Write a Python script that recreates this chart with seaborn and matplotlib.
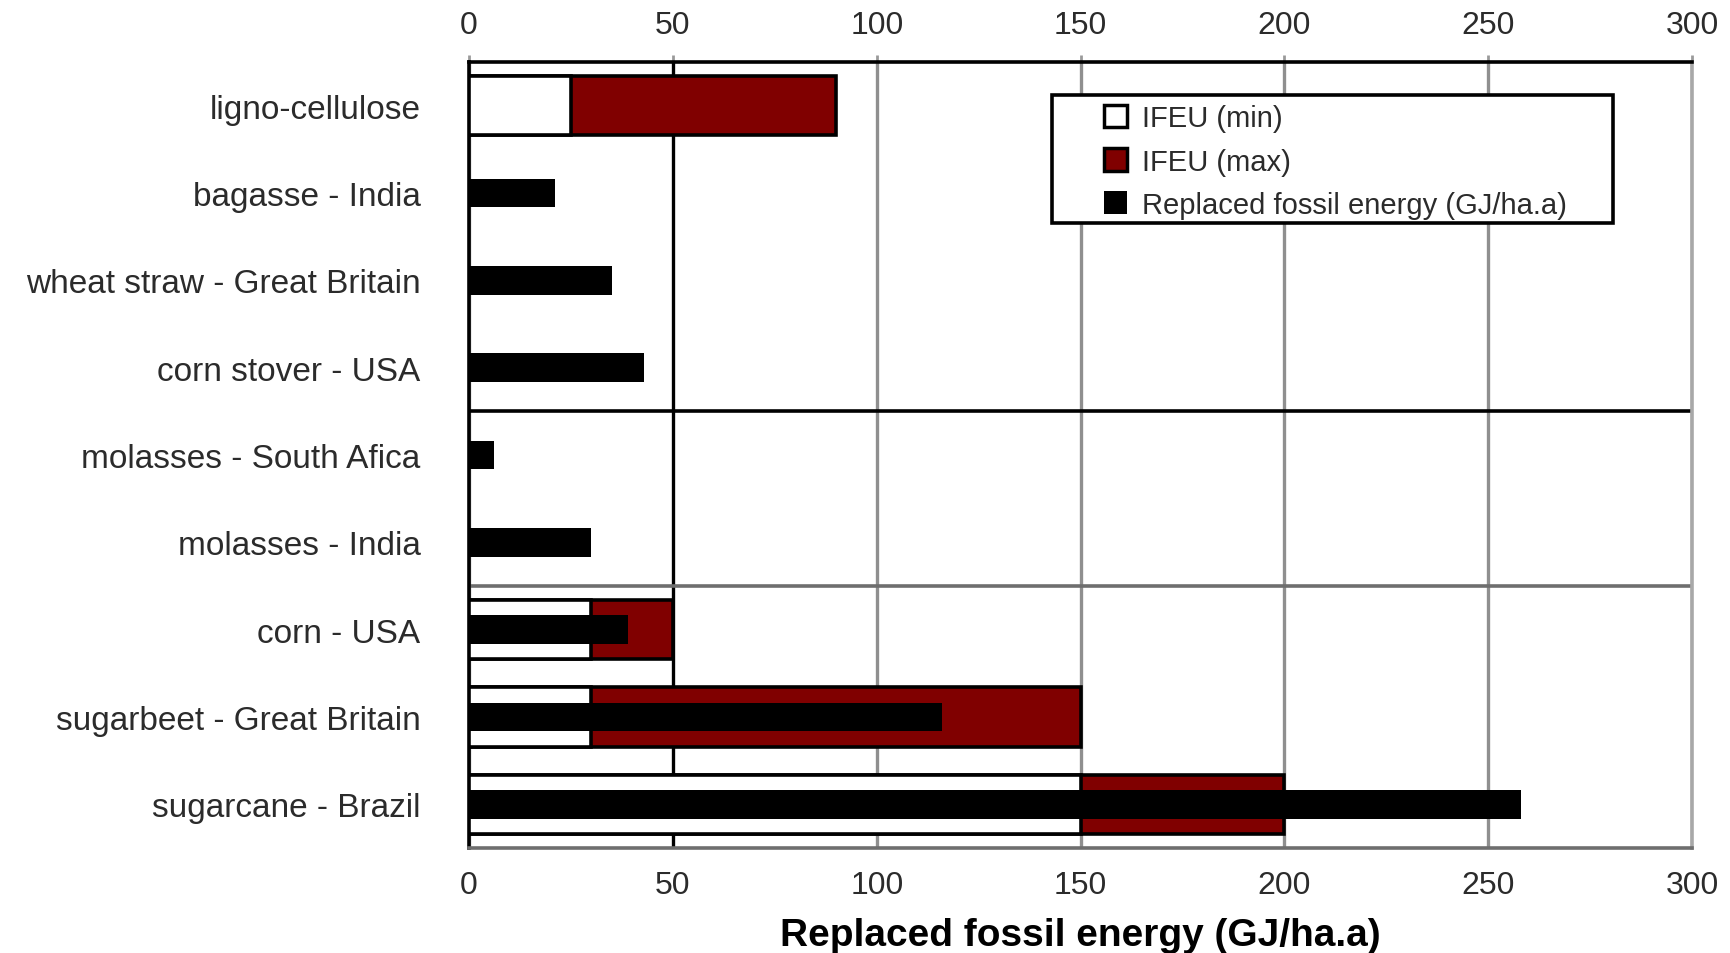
"""Replaced fossil energy per hectare for bioethanol feedstocks (IFEU range vs. literature values)."""

import matplotlib.pyplot as plt
import numpy as np
import pandas as pd
import seaborn as sns
from matplotlib.patches import Patch, Rectangle

categories = [
    "ligno-cellulose",
    "bagasse - India",
    "wheat straw - Great Britain",
    "corn stover - USA",
    "molasses - South Afica",
    "molasses - India",
    "corn - USA",
    "sugarbeet - Great Britain",
    "sugarcane - Brazil",
]
ifeu_min = [25, np.nan, np.nan, np.nan, np.nan, np.nan, 30, 30, 150]
ifeu_max = [90, np.nan, np.nan, np.nan, np.nan, np.nan, 50, 150, 200]
replaced = [np.nan, 21, 35, 43, 6, 30, 39, 116, 258]

x_ticks = [0, 50, 100, 150, 200, 250, 300]
x_label = "Replaced fossil energy (GJ/ha.a)"
legend_labels = ["IFEU (min)", "IFEU (max)", "Replaced fossil energy (GJ/ha.a)"]

MAROON = "#800000"
GRID_GREY = "#8f8f8f"
TEXT = "#2b2b2b"

df = pd.DataFrame(
    {"category": categories, "ifeu_min": ifeu_min, "ifeu_max": ifeu_max, "replaced": replaced}
)

sns.set_style("white")
plt.rcParams["font.family"] = ["Liberation Sans", "DejaVu Sans"]

fig = plt.figure(figsize=(17.31, 9.54), dpi=100)
ax = fig.add_axes([0.271, 0.110, 0.9775 - 0.271, 0.934 - 0.110])

# IFEU range: full max bar first, min bar drawn over it
sns.barplot(
    data=df.dropna(subset=["ifeu_max"]), x="ifeu_max", y="category", order=categories,
    orient="h", color=MAROON, edgecolor="black", linewidth=2.6, width=0.68,
    errorbar=None, saturation=1, ax=ax, zorder=2,
)
sns.barplot(
    data=df.dropna(subset=["ifeu_min"]), x="ifeu_min", y="category", order=categories,
    orient="h", color="white", edgecolor="black", linewidth=2.6, width=0.68,
    errorbar=None, saturation=1, ax=ax, zorder=3,
)
sns.barplot(
    data=df.dropna(subset=["replaced"]), x="replaced", y="category", order=categories,
    orient="h", color="black", linewidth=0, width=0.33,
    errorbar=None, saturation=1, ax=ax, zorder=4,
)

ax.set_xlim(0, 300)
ax.set_ylim(len(categories) - 0.5, -0.5)
ax.set_xticks(x_ticks)
ax.set_xticklabels([str(t) for t in x_ticks])
ax.set_xlabel(x_label, fontsize=28, fontweight="bold", color="black", labelpad=12)
ax.set_ylabel("")

# vertical grid: 50 in black, the rest grey
ax.set_axisbelow(True)
ax.xaxis.grid(True, color=GRID_GREY, linewidth=2.4)
ax.get_xgridlines()[1].set_color("black")

# group separators
ax.axhline(3.5, color="black", linewidth=2.6, zorder=1)
ax.axhline(5.5, color="#6e6e6e", linewidth=2.6, zorder=1)

ax.tick_params(axis="x", top=True, labeltop=True, length=5, width=2, color="#9a9a9a",
               labelsize=23, labelcolor=TEXT, pad=11)
ax.tick_params(axis="y", which="major", length=0, labelsize=24, labelcolor=TEXT, pad=35)
ax.set_yticks(np.arange(len(categories) + 1) - 0.5, minor=True)
ax.tick_params(axis="y", which="minor", length=9, width=2, color="#8a8a8a")

for side, color in [("top", "black"), ("left", "black"), ("bottom", "#6e6e6e"), ("right", "#a8a8a8")]:
    ax.spines[side].set_visible(True)
    ax.spines[side].set_color(color)
    ax.spines[side].set_linewidth(2.6)

# legend: frame drawn separately so the entries can sit indented inside it
ax.add_patch(Rectangle((0.477, 0.795), 0.458, 0.163, transform=ax.transAxes,
                       facecolor="white", edgecolor="black", linewidth=2.6, zorder=5))
handles = [
    Patch(facecolor="white", edgecolor="black", linewidth=2.5),
    Patch(facecolor=MAROON, edgecolor="black", linewidth=2.5),
    Patch(facecolor="black", edgecolor="black", linewidth=0),
]
leg = ax.legend(
    handles, legend_labels, loc="upper left", bbox_to_anchor=(0.519, 0.946),
    borderaxespad=0, borderpad=0, fontsize=21, frameon=False,
    handlelength=0.8, handleheight=0.8, handletextpad=0.5, labelspacing=0.52,
)
leg.set_zorder(6)
for t in leg.get_texts():
    t.set_color(TEXT)

fig.savefig("out.png", dpi=100)
